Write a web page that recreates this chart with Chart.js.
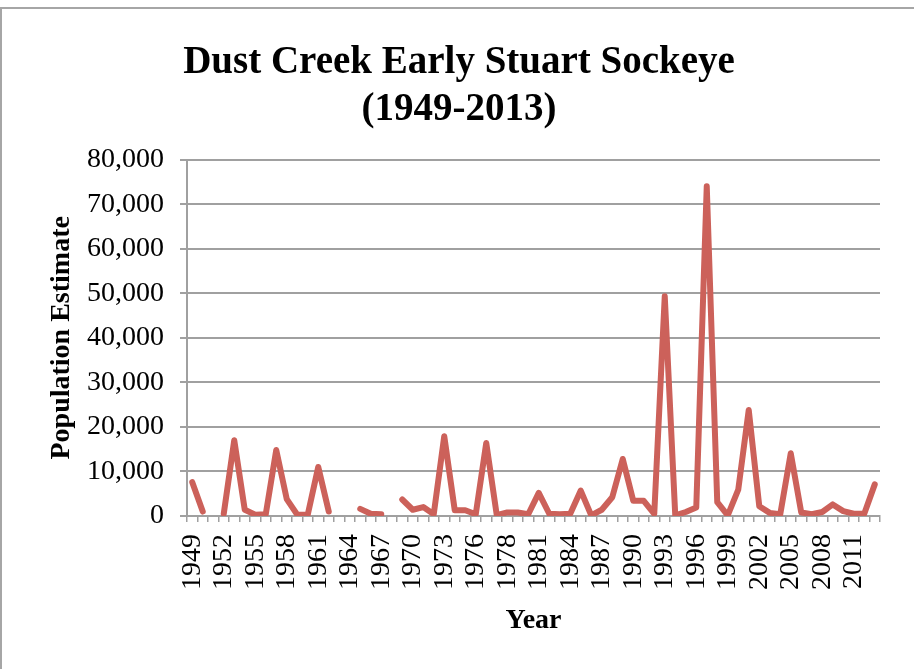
<!DOCTYPE html>
<html>
<head>
<meta charset="utf-8">
<script src="https://cdn.jsdelivr.net/npm/chart.js@4/dist/chart.umd.min.js"></script>
<style>
  html, body { margin: 0; padding: 0; background: #fff; }
  #wrap { position: relative; width: 914px; height: 669px; overflow: hidden; }
  #frame { position: absolute; left: 0; top: 7px; width: 1000px; height: 700px;
           border-top: 2px solid #a6a6a6; border-left: 2px solid #a6a6a6; box-sizing: border-box; }
  canvas { position: absolute; left: 0; top: 0; }
</style>
</head>
<body>
<div id="wrap">
  <div id="frame"></div>
  <canvas id="c" width="914" height="669"></canvas>
</div>
<script>
// Categories (66 entries; the source has one extra category between 1977 and 1978)
const years = [
  '1949','1950','1951','1952','1953','1954','1955','1956','1957','1958',
  '1959','1960','1961','1962','1963','1964','1965','1966','1967','1968',
  '1969','1970','1971','1972','1973','1974','1975','1976','1977','1977',
  '1978','1979','1980','1981','1982','1983','1984','1985','1986','1987',
  '1988','1989','1990','1991','1992','1993','1994','1995','1996','1997',
  '1998','1999','2000','2001','2002','2003','2004','2005','2006','2007',
  '2008','2009','2010','2011','2012','2013'
];
// Population estimate per category (null = no estimate)
const population = [
  7600, 1000, null, 500, 17000, 1400, 300, 400, 14800, 3800,
  300, 300, 11000, 1000, null, null, 1600, 500, 400, null,
  3700, 1400, 2000, 400, 17900, 1300, 1300, 400, 16400, 200,
  800, 800, 400, 5200, 500, 400, 500, 5700, 150, 1400,
  4200, 12800, 3400, 3400, 500, 49300, 150, 900, 1900, 74000,
  3100, 150, 5900, 23800, 2200, 700, 400, 14100, 800, 400,
  900, 2600, 1100, 500, 500, 7100
];
// Y tick values
const yTicks = [0, 10000, 20000, 30000, 40000, 50000, 60000, 70000, 80000];
const labelEvery = 3;
const titleLines = ['Dust Creek Early Stuart Sockeye', '(1949-2013)'];

const serif = "'Liberation Serif', 'Times New Roman', serif";
const gridColor = '#a0a0a0';

new Chart(document.getElementById('c'), {
  type: 'line',
  data: {
    labels: years,
    datasets: [{
      data: population,
      borderColor: '#CC615A',
      borderWidth: 6,
      borderJoinStyle: 'round',
      borderCapStyle: 'round',
      pointRadius: 0,
      pointHoverRadius: 0,
      tension: 0,
      spanGaps: false,
      fill: false
    }]
  },
  options: {
    responsive: false,
    animation: false,
    events: [],
    layout: { padding: { left: 4, right: 0, top: 0, bottom: 0 } },
    plugins: {
      legend: { display: false },
      tooltip: { enabled: false },
      title: {
        display: true,
        text: titleLines,
        color: '#000',
        font: { family: serif, size: 39, weight: 'bold', lineHeight: 1.2 },
        padding: { top: 40, bottom: 26 }
      }
    },
    scales: {
      x: {
        type: 'category',
        offset: true,
        grid: { display: true, drawOnChartArea: false, drawTicks: true, tickLength: 6,
                offset: true, color: gridColor, lineWidth: 1.5 },
        border: { display: true, color: gridColor, width: 2 },
        ticks: {
          autoSkip: false, minRotation: 90, maxRotation: 90, padding: 12,
          color: '#000',
          font: { family: serif, size: 28 },
          callback: function(v, i) { return i % labelEvery === 0 ? years[i] : ''; }
        },
        title: {
          display: true, text: 'Year', color: '#000',
          font: { family: serif, size: 28, weight: 'bold', lineHeight: 1.2 },
          padding: { top: 0, bottom: 31 }
        },
        afterFit: function(s) { s.height = 153; s.paddingLeft = 0; s.paddingRight = 0; }
      },
      y: {
        min: 0, max: 80000,
        afterBuildTicks: function(s) { s.ticks = yTicks.map(v => ({ value: v })); },
        grid: { color: gridColor, lineWidth: 2, drawTicks: true, tickLength: 7 },
        border: { display: true, color: gridColor, width: 2 },
        ticks: {
          padding: 16, color: '#000',
          font: { family: serif, size: 28 },
          callback: function(v) { return Number(v).toLocaleString('en-US'); }
        },
        title: {
          display: true, text: 'Population Estimate', color: '#000',
          font: { family: serif, size: 28, weight: 'bold', lineHeight: 1.2 },
          padding: { top: 41, bottom: 0 }
        },
        afterFit: function(s) { s.width = 183; }
      },
      yPad: {
        position: 'right',
        display: true,
        grid: { display: false, drawTicks: false },
        border: { display: false },
        ticks: { display: false },
        afterFit: function(s) { s.width = 34; }
      }
    }
  }
});
</script>
</body>
</html>
